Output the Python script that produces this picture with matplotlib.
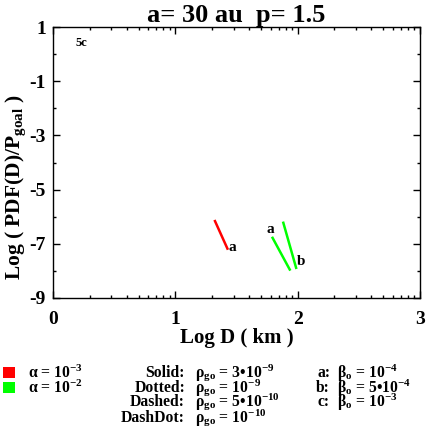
import matplotlib
matplotlib.use("Agg")
import matplotlib.pyplot as plt
import numpy as np
from matplotlib.patches import Rectangle

plt.rcParams['font.family'] = ['Liberation Serif', 'DejaVu Serif']
plt.rcParams['font.weight'] = 'bold'
plt.rcParams['mathtext.fontset'] = 'custom'
plt.rcParams['mathtext.rm'] = 'Liberation Serif:bold'
plt.rcParams['mathtext.it'] = 'Liberation Serif:bold'
plt.rcParams['mathtext.bf'] = 'Liberation Serif:bold'

# data
red_a_x = [1.32, 1.43]
red_a_y = [-6.12, -7.22]
green_a_x = [1.79, 1.94]
green_a_y = [-6.74, -7.99]
green_b_x = [1.88, 1.99]
green_b_y = [-6.18, -7.93]

title = "a= 30 au  p= 1.5"
xticks = [0, 1, 2, 3]
yticks = [1, -1, -3, -5, -7, -9]

fig = plt.figure(figsize=(4.29, 4.29), dpi=100)
ax = fig.add_axes([53/429, 1-298/429, 367/429, 271/429])

ax.plot(red_a_x, red_a_y, color='#ff0000', lw=1.8, solid_capstyle='butt')
ax.plot(green_a_x, green_a_y, color='#00ff00', lw=1.8, solid_capstyle='butt')
ax.plot(green_b_x, green_b_y, color='#00ff00', lw=1.8, solid_capstyle='butt')

ax.text(red_a_x[1] + 0.005, red_a_y[1] + 0.1, 'a', fontsize=11, fontweight='bold', va='center', ha='left')
ax.text(green_a_x[0] - 0.01, green_a_y[0] + 0.25, 'a', fontsize=11, fontweight='bold', va='center', ha='center')
ax.text(green_b_x[1] + 0.04, green_b_y[1] + 0.28, 'b', fontsize=11, fontweight='bold', va='center', ha='center')
ax.text(0.235, 0.42, '5c', fontsize=9, fontweight='bold', va='center', ha='center')

ax.set_xlim(0, 3)
ax.set_ylim(-9, 1)
ax.set_xticks(xticks)
ax.set_xticklabels([str(v) for v in xticks])
ax.set_yticks(yticks)
ax.set_yticklabels([str(v) for v in yticks])
minor_x = [d + np.log10(k) for d in range(3) for k in range(2, 10)]
ax.set_xticks(minor_x, minor=True)
ax.set_yticks([0, -2, -4, -6, -8], minor=True)
ax.tick_params(which='both', direction='in', top=True, right=True, width=1.0)
ax.tick_params(which='major', length=5, labelsize=14)
ax.tick_params(axis='x', which='major', pad=9)
ax.tick_params(axis='y', which='major', pad=5)
ax.tick_params(which='minor', length=2.5)
for lab in ax.get_xticklabels() + ax.get_yticklabels():
    lab.set_fontweight('bold')
for s in ax.spines.values():
    s.set_linewidth(1.0)

ax.set_title(title, fontsize=19, fontweight='bold', pad=3)
ax.set_xlabel('Log D ( km )', fontsize=15, fontweight='bold', labelpad=0)
ax.set_ylabel(r'Log ( PDF(D)/P$_{\rm goal}$ )', fontsize=15.5, fontweight='bold')
ax.yaxis.set_label_coords(-49/367, 0.41)
ax.yaxis.label.set_va('top')

# legend
rows = [1-373/429, 1-388/429, 1-402/429, 1-418/429]
fig.patches.append(Rectangle((3/429, 1-378/429), 12/429, 11/429, transform=fig.transFigure,
                             facecolor='#ff0000', edgecolor='none'))
fig.patches.append(Rectangle((3/429, 1-393/429), 12/429, 11/429, transform=fig.transFigure,
                             facecolor='#00ff00', edgecolor='none'))
fs = 11.3
fig.text(28/429, rows[0], r'α = 10$^{-3}$', fontsize=fs, fontweight='bold', va='center')
fig.text(28/429, rows[1], r'α = 10$^{-2}$', fontsize=fs, fontweight='bold', va='center')

styles = ['Solid:', 'Dotted:', 'Dashed:', 'DashDot:']
rhos = [r'ρ$_{\rm go}$ = 3•10$^{-9}$', r'ρ$_{\rm go}$ = 10$^{-9}$',
        r'ρ$_{\rm go}$ = 5•10$^{-10}$', r'ρ$_{\rm go}$ = 10$^{-10}$']
for i in range(4):
    fig.text(185/429, rows[i], styles[i], fontsize=fs, fontweight='bold', va='center', ha='right')
    fig.text(195/429, rows[i], rhos[i], fontsize=fs, fontweight='bold', va='center', ha='left')

blabels = ['a:', 'b:', 'c:']
betas = [r'β$_{\rm o}$ = 10$^{-4}$', r'β$_{\rm o}$ = 5•10$^{-4}$', r'β$_{\rm o}$ = 10$^{-3}$']
for i in range(3):
    fig.text(330/429, rows[i], blabels[i], fontsize=fs, fontweight='bold', va='center', ha='right')
    fig.text(337/429, rows[i], betas[i], fontsize=fs, fontweight='bold', va='center', ha='left')

fig.savefig('out.png', dpi=100)
